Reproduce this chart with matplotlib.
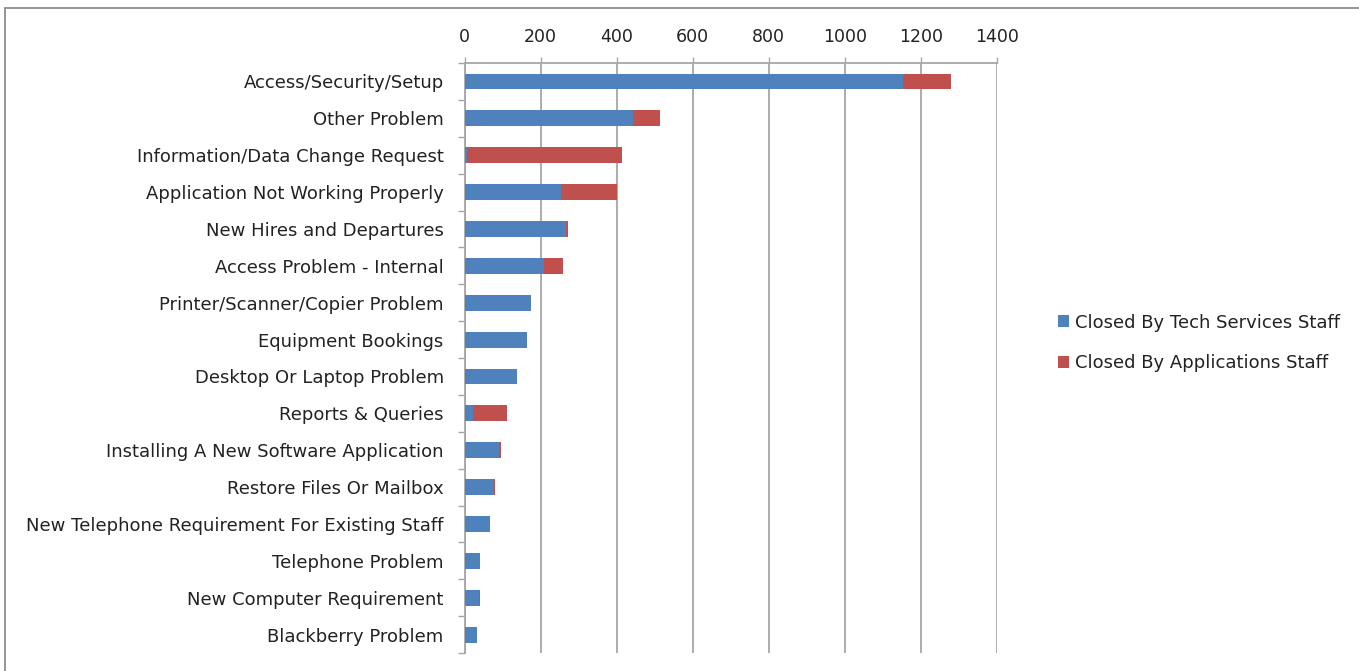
import matplotlib
matplotlib.use('Agg')
import matplotlib.pyplot as plt
import numpy as np
from matplotlib.patches import Rectangle

categories = ['Access/Security/Setup', 'Other Problem', 'Information/Data Change Request',
              'Application Not Working Properly', 'New Hires and Departures',
              'Access Problem - Internal', 'Printer/Scanner/Copier Problem',
              'Equipment Bookings', 'Desktop Or Laptop Problem', 'Reports & Queries',
              'Installing A New Software Application', 'Restore Files Or Mailbox',
              'New Telephone Requirement For Existing Staff', 'Telephone Problem',
              'New Computer Requirement', 'Blackberry Problem']
tech = [1152, 444, 6, 254, 268, 210, 174, 165, 139, 23, 92, 78, 68, 42, 39, 33]
apps = [127, 70, 407, 148, 3, 48, 0, 0, 0, 89, 3, 3, 0, 0, 3, 0]
xticks = [0, 200, 400, 600, 800, 1000, 1200, 1400]

blue = '#4F81BD'
red = '#C0504D'
grid_col = '#A6A6A6'
txt_col = '#222222'

plt.rcParams['font.family'] = ['DejaVu Sans']

fig = plt.figure(figsize=(13.59, 6.71), dpi=100)
ax = fig.add_axes([0.3418, 0.0268, 0.3918, 0.8793])

y = np.arange(len(categories))
ax.barh(y, tech, height=0.43, color=blue, label='Closed By Tech Services Staff', zorder=3)
ax.barh(y, apps, left=tech, height=0.43, color=red, label='Closed By Applications Staff', zorder=3)

ax.set_xlim(0, 1400)
ax.set_ylim(len(categories) - 0.5, -0.5)
ax.set_xticks(xticks)
ax.xaxis.tick_top()
ax.set_yticks(y)
ax.set_yticklabels(categories)
ax.set_yticks(np.arange(-0.5, len(categories)), minor=True)

ax.tick_params(axis='y', which='major', length=0, pad=15, labelsize=13, colors=txt_col)
ax.tick_params(axis='y', which='minor', length=5, width=1, color=grid_col, direction='out')
ax.tick_params(axis='x', which='major', length=4.5, width=1, color=grid_col, pad=8,
               labelsize=12.5, labelcolor=txt_col)

ax.grid(axis='x', color=grid_col, linewidth=1.3, zorder=0)
for side in ['right', 'bottom']:
    ax.spines[side].set_visible(False)
for side in ['left', 'top']:
    ax.spines[side].set_color(grid_col)
    ax.spines[side].set_linewidth(1.3)

# outer chart border, only top and left show inside the image
fig.patches.append(Rectangle((5 / 1359, -0.1), 1.2, 1 - 8 / 671 + 0.1, transform=fig.transFigure,
                             fill=False, edgecolor='#8C8C8C', linewidth=1.3))

fig.legend(loc='center left', bbox_to_anchor=(0.7665, 0.489), frameon=False,
           fontsize=13, handlelength=0.6, handleheight=0.6, handletextpad=0.35,
           labelspacing=1.25, labelcolor=txt_col)

fig.savefig('out.png', dpi=100)
